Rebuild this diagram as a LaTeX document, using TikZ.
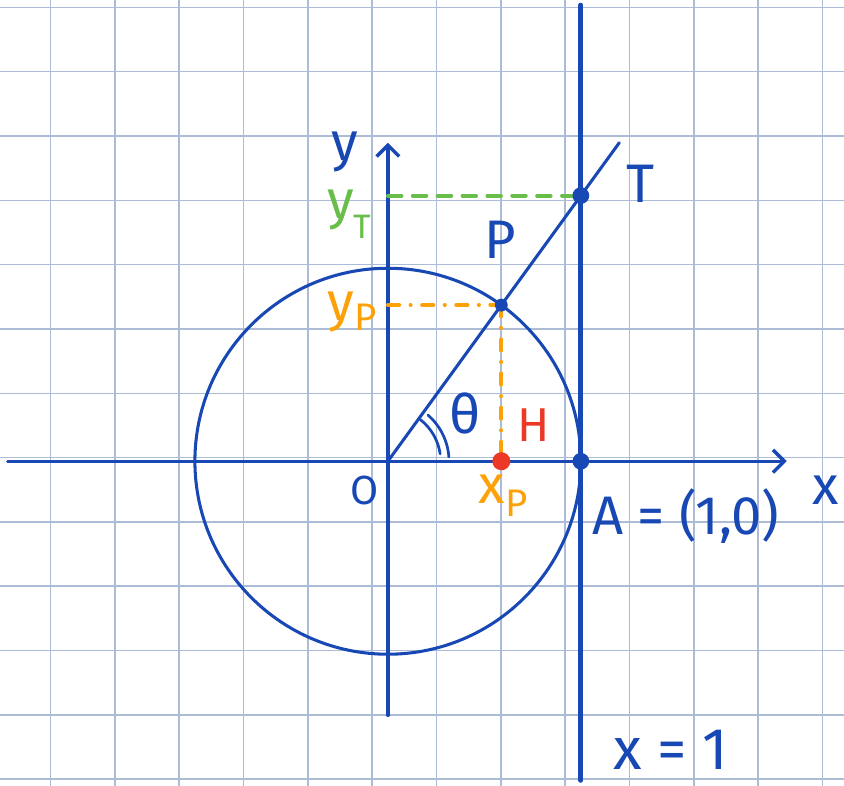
\documentclass[tikz,border=0pt]{standalone}
\usepackage{fontspec}
\setmainfont{Fira Sans}
\usetikzlibrary{arrows.meta}

\definecolor{penblue}{RGB}{24,72,180}
\definecolor{pengreen}{RGB}{104,190,72}
\definecolor{penorange}{RGB}{252,162,8}
\definecolor{penred}{RGB}{236,56,38}
\definecolor{paperblue}{RGB}{172,188,214}

\tikzset{
  paper/.style={paperblue, line width=0.7pt},
  ink/.style={penblue, line width=1.35pt, line cap=round},
  axis/.style={ink, line width=1.5pt, -{Straight Barb[length=5pt,width=10pt]}},
  greendash/.style={pengreen, line width=1.7pt, line cap=round, dash pattern=on 6pt off 5pt},
  orangedash/.style={penorange, line width=1.7pt, line cap=round, dash pattern=on 5pt off 5pt on 0.1pt off 5pt},
  lab/.style={inner sep=0pt, font=\fontsize{24}{28}\selectfont},
}

\begin{document}
\begin{tikzpicture}
\useasboundingbox (-6.03,-5.04) rectangle (7.09,7.17);

% squared paper
\begin{scope}
\clip (-6.03,-5.04) rectangle (7.09,7.17);
\draw[paper, shift={(-0.246,0.056)}] (-7,-7) grid (8,8);
\end{scope}

% points
\coordinate (O) at (0,0);
\coordinate (P) at (54:3);
\coordinate (T) at (3,{3*tan(54)});
\coordinate (H) at (P |- O);
\coordinate (A) at (3,0);
\coordinate (E) at (54:6.12);
\coordinate (xl) at (-5.91,0);
\coordinate (xr) at (6.2,0);
\coordinate (yb) at (0,-3.95);
\coordinate (yt) at (0,4.95);
\coordinate (lt) at (3,7.09);
\coordinate (lb) at (3,-4.96);

% axes
\draw[axis] (xl) -- (xr);
\draw[axis] (yb) -- (yt);

% unit circle
\draw[ink] (O) circle (3);

% line x = 1
\draw[ink, line width=2.2pt] (lt) -- (lb);

% ray from O through P and T
\draw[ink] (O) -- (E);

% projections
\draw[greendash] (O |- T) -- (T);
\draw[orangedash] (O |- P) -- (P);
\draw[orangedash] (P) -- (H);

% angle marks
\draw[ink, line width=1.2pt] (8:0.82) arc (8:52:0.82);
\draw[ink, line width=1.2pt] (4:0.95) arc (4:49:0.95);

% dots
\fill[penblue] (T) circle (0.13);
\fill[penblue] (A) circle (0.13);
\fill[penblue] (P) circle (0.1);
\fill[penred] (H) circle (0.14);

% labels
\node[lab, penblue] (ylab) at (-0.67,4.8) {y};
\node[lab, pengreen] (yTlab) at (-0.6,3.84) {y\raisebox{-0.7ex}{\fontsize{15}{17}\selectfont T}};
\node[lab, penorange] (yPlab) at (-0.56,2.32) {y\raisebox{-0.35ex}{\fontsize{17}{19}\selectfont P}};
\node[lab, penblue] (Plab) at (1.74,3.44) {P};
\node[lab, penblue] (Tlab) at (3.92,4.32) {T};
\node[lab, penblue] (thlab) at (1.2,0.75) {θ};
\node[lab, penred, font=\fontsize{21}{24}\selectfont] (Hlab) at (2.26,0.56) {H};
\node[lab, penorange] (xPlab) at (1.79,-0.53) {x\raisebox{-0.45ex}{\fontsize{17}{19}\selectfont P}};
\node[lab, penblue, font=\fontsize{18}{21}\selectfont] (Olab) at (-0.36,-0.45) {O};
\node[lab, penblue] (Alab) at (4.63,-0.86) {A = (1,0)};
\node[lab, penblue] (xlab) at (6.8,-0.45) {x};
\node[lab, penblue, font=\fontsize{26}{30}\selectfont] (x1lab) at (4.4,-4.48) {x = 1};

\end{tikzpicture}
\end{document}
